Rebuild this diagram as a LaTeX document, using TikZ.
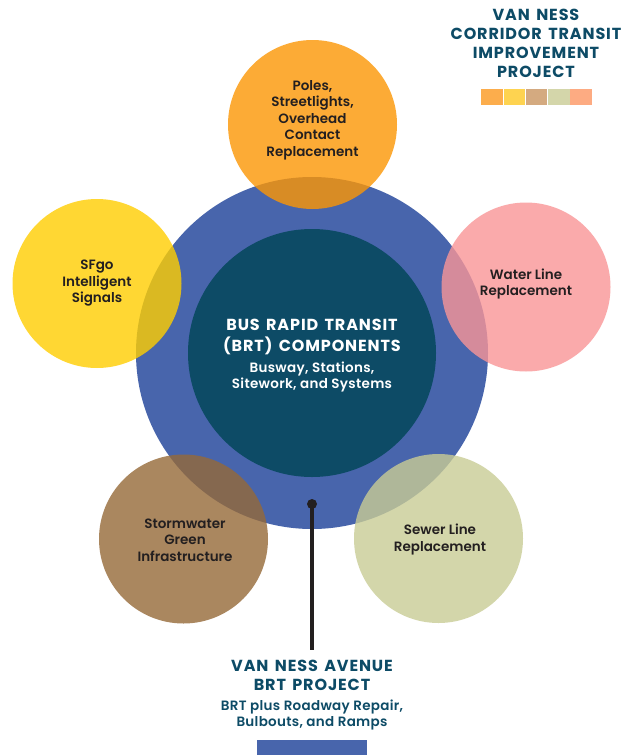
\documentclass[tikz,border=0pt]{standalone}
\usepackage{fontspec}
\setmainfont{Poppins}[BoldFont={Poppins SemiBold}]
\newfontfamily\headfont{Poppins Bold}[LetterSpace=5.5,WordSpace=1.5]
\newfontfamily\subfont{Poppins SemiBold}[LetterSpace=2.2]
\definecolor{blueC}{RGB}{72,101,172}
\definecolor{tealC}{RGB}{13,75,102}
\definecolor{inkC}{RGB}{35,31,32}
\definecolor{oraC}{RGB}{252,150,4}
\definecolor{yelC}{RGB}{255,206,0}
\definecolor{pinC}{RGB}{249,149,151}
\definecolor{broC}{RGB}{149,105,56}
\definecolor{sewC}{RGB}{201,204,149}
\definecolor{swA}{RGB}{252,173,76}
\definecolor{swB}{RGB}{254,211,80}
\definecolor{swC}{RGB}{212,170,128}
\definecolor{swD}{RGB}{212,214,170}
\definecolor{swE}{RGB}{253,171,130}
\tikzset{
 disc/.style={circle,minimum size=169pt,inner sep=0pt,fill opacity=.8,text opacity=1},
 lab/.style={align=center,text=inkC,font=\bfseries\fontsize{13.5}{16.5}\selectfont},
 head/.style={align=center,text=tealC,font=\headfont\fontsize{16}{19}\selectfont},
 sub/.style={align=center,text=tealC,font=\subfont\fontsize{13.5}{16.5}\selectfont},
 swatch/.style={minimum width=21.5pt,minimum height=16pt,inner sep=0pt,anchor=north west},
}
\begin{document}
\begin{tikzpicture}[x=1pt,y=-1pt]
\useasboundingbox (0,0) rectangle (621,755);
\fill[white] (0,0) rectangle (621,755);
\node[circle,fill=blueC,minimum size=352pt,inner sep=0pt] (outer) at (312,353) {};
\node[circle,fill=tealC,minimum size=248pt,inner sep=0pt] (inner) at (312,353) {};
\node[disc,fill=oraC] (poles) at (312.5,124.5) {};
\node[disc,fill=yelC] (sfgo) at (97,283.5) {};
\node[disc,fill=pinC] (water) at (526,287) {};
\node[disc,fill=broC] (storm) at (183.5,539) {};
\node[disc,fill=sewC] (sewer) at (438.5,538.5) {};
\node[lab] (tpoles) at (312.5,120) {Poles,\\Streetlights,\\Overhead\\Contact\\Replacement};
\node[lab] (tsfgo) at (97,283.5) {SFgo\\Intelligent\\Signals};
\node[lab] (twater) at (526,284) {Water Line\\Replacement};
\node[lab] (tstorm) at (185,540) {Stormwater\\Green\\Infrastructure};
\node[lab] (tsewer) at (440,539.5) {Sewer Line\\Replacement};
\node[align=center,text=white,font=\headfont\fontsize{16}{20.5}\selectfont] (thead) at (312,337) {BUS RAPID TRANSIT\\(BRT) COMPONENTS};
\node[align=center,text=white,font=\subfont\fontsize{13.5}{16}\selectfont] (tsub) at (312,377) {Busway, Stations,\\Sitework, and Systems};
\node[circle,fill=inkC,minimum size=10pt,inner sep=0pt] (dot) at (312,504) {};
\coordinate (lineend) at (312,650);
\draw[inkC,line width=4pt] (dot.center) -- (lineend);
\node[head] (tvan) at (312,675.5) {VAN NESS AVENUE\\BRT PROJECT};
\node[sub] (tbrt) at (312,715) {BRT plus Roadway Repair,\\Bulbouts, and Ramps};
\node[fill=blueC,minimum width=110pt,minimum height=15pt,inner sep=0pt,anchor=north west] (bar) at (257,740) {};
\node[head] (ttitle) at (536,43) {VAN NESS\\CORRIDOR TRANSIT\\IMPROVEMENT\\PROJECT};
\node[swatch,fill=swA] (s1) at (481,89) {};
\node[swatch,fill=swB] (s2) at (503.3,89) {};
\node[swatch,fill=swC] (s3) at (525.6,89) {};
\node[swatch,fill=swD] (s4) at (547.9,89) {};
\node[swatch,fill=swE] (s5) at (570.2,89) {};
\end{tikzpicture}
\end{document}
